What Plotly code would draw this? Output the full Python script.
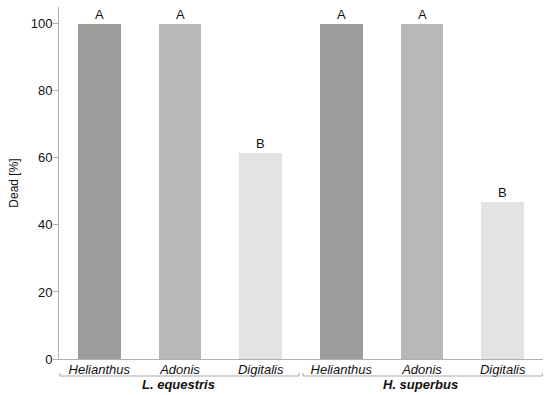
import plotly.graph_objects as go

groups = ["L. equestris", "H. superbus"]
plants = ["Helianthus", "Adonis", "Digitalis"]
dead_pct = {
    "L. equestris": [100, 100, 61.5],
    "H. superbus": [100, 100, 46.7],
}
letters = {
    "L. equestris": ["A", "A", "B"],
    "H. superbus": ["A", "A", "B"],
}
colors = ["#9c9c9c", "#b8b8b8", "#e3e3e3"]

FONT = "Liberation Sans, Arial, sans-serif"

xs, ys, cols, labels, texts = [], [], [], [], []
i = 0
for g in groups:
    for j, p in enumerate(plants):
        xs.append(i)
        ys.append(dead_pct[g][j])
        cols.append(colors[j])
        labels.append(p)
        texts.append(letters[g][j])
        i += 1

fig = go.Figure()
fig.add_trace(go.Bar(
    x=xs, y=ys, width=0.53,
    marker=dict(color=cols, line=dict(width=0)),
    hoverinfo="skip", showlegend=False,
))

for x, y, t in zip(xs, ys, texts):
    fig.add_annotation(x=x, y=y, text=t, showarrow=False, yanchor="bottom",
                       yshift=0, font=dict(family=FONT, size=13, color="#111"))

n = len(plants)
plot_h = 352.0
bracket_y = -17 / plot_h
for k, g in enumerate(groups):
    x0 = k * n - 0.49 if k == 0 else k * n - 0.475
    x1 = k * n + n - 0.525 if k == 0 else k * n + n - 0.51
    fig.add_shape(type="path",
                  path=f"M {x0},{bracket_y + 3/plot_h} L {x0},{bracket_y} L {x1},{bracket_y} L {x1},{bracket_y + 3/plot_h}",
                  xref="x", yref="paper", line=dict(color="#a8a8a8", width=1))
    fig.add_annotation(x=k * n + (n - 1) / 2 - 0.02, y=bracket_y, xref="x", yref="paper",
                       text=f"<b><i>{g}</i></b>", showarrow=False, yanchor="top", yshift=1,
                       font=dict(family=FONT, size=13, color="#111"))

fig.update_layout(
    width=550, height=395,
    margin=dict(l=59, r=7, t=7, b=36),
    plot_bgcolor="white", paper_bgcolor="white",
    bargap=0,
    xaxis=dict(
        range=[-0.5, len(xs) - 0.5],
        tickvals=xs,
        ticktext=[f"<i>{l}</i>" for l in labels],
        showline=True, linecolor="#b0b0b0", linewidth=1,
        ticks="", showgrid=False, zeroline=False,
        tickfont=dict(family=FONT, size=13, color="#111"),
        ticklabelstandoff=-2,
        fixedrange=True,
    ),
    yaxis=dict(
        range=[0, 105],
        tickvals=[0, 20, 40, 60, 80, 100],
        showline=True, linecolor="#b0b0b0", linewidth=1,
        ticks="outside", ticklen=5, tickcolor="#b0b0b0",
        showgrid=False, zeroline=False,
        tickfont=dict(family=FONT, size=13, color="#111"),
        ticklabelstandoff=-2,
        title=dict(text="Dead [%]", font=dict(family=FONT, size=12, color="#111"), standoff=9),
    ),
)

fig.write_html("out.html", config={"displayModeBar": False},
               post_script="document.body.style.margin='0';")
